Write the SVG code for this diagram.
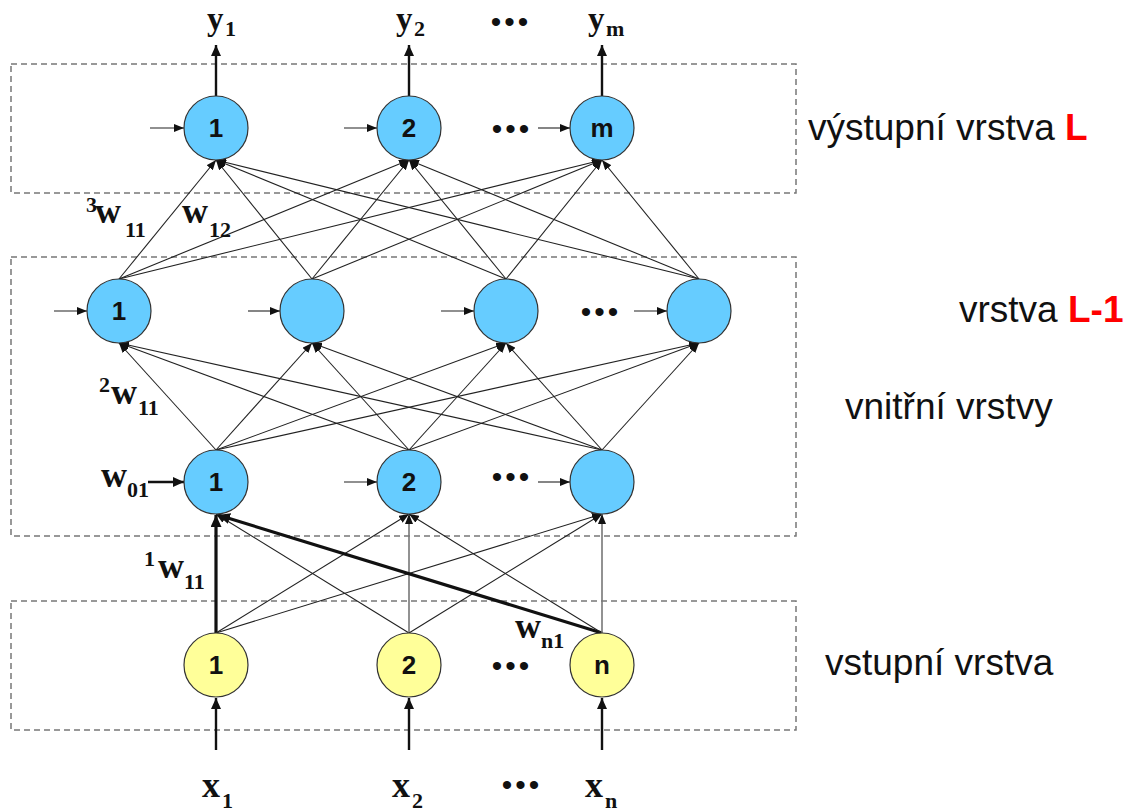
<svg xmlns="http://www.w3.org/2000/svg" width="1130" height="812" viewBox="0 0 1130 812">
<style>
.box{fill:none;stroke:#777;stroke-width:1.5;stroke-dasharray:6 4}
.blue{fill:#66CCFF;stroke:#333;stroke-width:1.2}
.yel{fill:#FFFF99;stroke:#333;stroke-width:1.2}
.nl{font-family:"Liberation Sans",Arial,sans-serif;font-weight:bold;font-size:26px;fill:#111;text-anchor:middle}
.e{stroke:#222;stroke-width:1.1;fill:none;marker-end:url(#ah)}
.thick{stroke:#111;stroke-width:3.2;fill:none;marker-end:url(#ahb)}
.grey{stroke:#777;stroke-width:1.6;fill:none;marker-end:url(#ah)}
.io{stroke:#111;stroke-width:2.4;fill:none;marker-end:url(#ahm)}
.m{font-family:"Liberation Serif","Times New Roman",serif;font-weight:bold;fill:#111}
.big{font-size:36px}
.ybig{font-size:33px}
.sub{font-size:22px}
.dots{font-family:"Liberation Sans",Arial,sans-serif;font-size:30px;fill:#111;text-anchor:middle;letter-spacing:3px}
.lab{font-family:"Liberation Sans",Arial,sans-serif;font-size:37px;fill:#111}
.red{fill:#FF0000;font-weight:bold}
</style>
<defs>
<marker id="ah" markerUnits="userSpaceOnUse" markerWidth="11" markerHeight="8" refX="10" refY="4" orient="auto"><path d="M0,0 L10,4 L0,8 z" fill="#111"/></marker>
<marker id="ahm" markerUnits="userSpaceOnUse" markerWidth="12" markerHeight="10" refX="11" refY="5" orient="auto"><path d="M0,0 L11,5 L0,10 z" fill="#111"/></marker>
<marker id="ahb" markerUnits="userSpaceOnUse" markerWidth="13" markerHeight="11" refX="12" refY="5.5" orient="auto"><path d="M0,0 L12,5.5 L0,11 z" fill="#111"/></marker>
</defs>
<rect width="1130" height="812" fill="#fff"/>
<g id="layers">
<rect class="box" x="11" y="64" width="785" height="129"/>
<rect class="box" x="11" y="257" width="785" height="279"/>
<rect class="box" x="11" y="601" width="785" height="129"/>
</g>
<g id="connectors">
<line class="e" x1="119" y1="279" x2="216" y2="160"/>
<line class="e" x1="119" y1="279" x2="409" y2="160"/>
<line class="e" x1="119" y1="279" x2="602" y2="160"/>
<line class="e" x1="312" y1="279" x2="216" y2="160"/>
<line class="e" x1="312" y1="279" x2="409" y2="160"/>
<line class="e" x1="312" y1="279" x2="602" y2="160"/>
<line class="e" x1="506" y1="279" x2="216" y2="160"/>
<line class="e" x1="506" y1="279" x2="409" y2="160"/>
<line class="e" x1="506" y1="279" x2="602" y2="160"/>
<line class="e" x1="699" y1="279" x2="216" y2="160"/>
<line class="e" x1="699" y1="279" x2="409" y2="160"/>
<line class="e" x1="699" y1="279" x2="602" y2="160"/>
<line class="e" x1="216" y1="450" x2="119" y2="343"/>
<line class="e" x1="216" y1="450" x2="312" y2="343"/>
<line class="e" x1="216" y1="450" x2="506" y2="343"/>
<line class="e" x1="216" y1="450" x2="699" y2="343"/>
<line class="e" x1="409" y1="450" x2="119" y2="343"/>
<line class="e" x1="409" y1="450" x2="312" y2="343"/>
<line class="e" x1="409" y1="450" x2="506" y2="343"/>
<line class="e" x1="409" y1="450" x2="699" y2="343"/>
<line class="e" x1="602" y1="450" x2="119" y2="343"/>
<line class="e" x1="602" y1="450" x2="312" y2="343"/>
<line class="e" x1="602" y1="450" x2="506" y2="343"/>
<line class="e" x1="602" y1="450" x2="699" y2="343"/>
<line class="thick" x1="216" y1="633" x2="216" y2="515"/>
<line class="e" x1="216" y1="633" x2="409" y2="514"/>
<line class="e" x1="216" y1="633" x2="602" y2="514"/>
<line class="e" x1="409" y1="633" x2="216" y2="514"/>
<line class="grey" x1="409" y1="633" x2="409" y2="514"/>
<line class="e" x1="409" y1="633" x2="602" y2="514"/>
<line class="thick" x1="602" y1="633" x2="218" y2="515"/>
<line class="e" x1="602" y1="633" x2="409" y2="514"/>
<line class="grey" x1="602" y1="633" x2="602" y2="514"/>
<line class="io" x1="216" y1="96" x2="216" y2="45"/>
<line class="io" x1="409" y1="96" x2="409" y2="45"/>
<line class="io" x1="602" y1="96" x2="602" y2="45"/>
<line class="io" x1="216" y1="750" x2="216" y2="698"/>
<line class="io" x1="409" y1="750" x2="409" y2="698"/>
<line class="io" x1="602" y1="750" x2="602" y2="698"/>
<line class="e" x1="150" y1="128" x2="184" y2="128"/>
<line class="e" x1="344" y1="128" x2="377" y2="128"/>
<line class="e" x1="538" y1="128" x2="570" y2="128"/>
<line class="e" x1="54" y1="311" x2="87" y2="311"/>
<line class="e" x1="248" y1="311" x2="280" y2="311"/>
<line class="e" x1="441" y1="311" x2="474" y2="311"/>
<line class="e" x1="634" y1="311" x2="667" y2="311"/>
<line class="io" x1="148" y1="482" x2="184" y2="482"/>
<line class="e" x1="344" y1="482" x2="377" y2="482"/>
<line class="e" x1="538" y1="482" x2="570" y2="482"/>
</g>
<g id="out1"><circle class="blue" cx="216" cy="128" r="32"/><text class="nl" x="216" y="137">1</text></g>
<g id="out2"><circle class="blue" cx="409" cy="128" r="32"/><text class="nl" x="409" y="137">2</text></g>
<g id="outm"><circle class="blue" cx="602" cy="128" r="32"/><text class="nl" x="602" y="137">m</text></g>
<g id="hid2_1"><circle class="blue" cx="119" cy="311" r="32"/><text class="nl" x="119" y="320">1</text></g>
<g id="hid2_2"><circle class="blue" cx="312" cy="311" r="32"/></g>
<g id="hid2_3"><circle class="blue" cx="506" cy="311" r="32"/></g>
<g id="hid2_4"><circle class="blue" cx="699" cy="311" r="32"/></g>
<g id="hid1_1"><circle class="blue" cx="216" cy="482" r="32"/><text class="nl" x="216" y="491">1</text></g>
<g id="hid1_2"><circle class="blue" cx="409" cy="482" r="32"/><text class="nl" x="409" y="491">2</text></g>
<g id="hid1_3"><circle class="blue" cx="602" cy="482" r="32"/></g>
<g id="in1"><circle class="yel" cx="216" cy="665" r="32"/><text class="nl" x="216" y="674">1</text></g>
<g id="in2"><circle class="yel" cx="409" cy="665" r="32"/><text class="nl" x="409" y="674">2</text></g>
<g id="inn"><circle class="yel" cx="602" cy="665" r="32"/><text class="nl" x="602" y="674">n</text></g>
<g id="labels">
<text class="m"><tspan class="ybig" x="207" y="30">y</tspan><tspan class="sub" x="225" y="36">1</tspan></text>
<text class="m"><tspan class="ybig" x="396" y="30">y</tspan><tspan class="sub" x="414" y="36">2</tspan></text>
<text class="m"><tspan class="ybig" x="588" y="30">y</tspan><tspan class="sub" x="606" y="36">m</tspan></text>
<text class="m"><tspan class="big" x="202" y="797">x</tspan><tspan class="sub" x="222" y="808">1</tspan></text>
<text class="m"><tspan class="big" x="392" y="797">x</tspan><tspan class="sub" x="412" y="808">2</tspan></text>
<text class="m"><tspan class="big" x="585" y="797">x</tspan><tspan class="sub" x="605" y="808">n</tspan></text>
<text class="m"><tspan class="sub" x="86" y="212">3</tspan><tspan class="big" x="95" y="223">w</tspan><tspan class="sub" x="125" y="237">11</tspan></text>
<text class="m"><tspan class="big" x="182" y="223">w</tspan><tspan class="sub" x="209" y="237">12</tspan></text>
<text class="m"><tspan class="sub" x="99" y="392">2</tspan><tspan class="big" x="111" y="404">w</tspan><tspan class="sub" x="138" y="415">11</tspan></text>
<text class="m"><tspan class="big" x="101" y="487">w</tspan><tspan class="sub" x="127" y="497">01</tspan></text>
<text class="m"><tspan class="sub" x="144" y="566">1</tspan><tspan class="big" x="158" y="578">w</tspan><tspan class="sub" x="184" y="589">11</tspan></text>
<text class="m"><tspan class="big" x="515" y="638">w</tspan><tspan class="sub" x="541" y="648">n1</tspan></text>
<text class="dots" x="511" y="32">•••</text>
<text class="dots" x="512" y="139">•••</text>
<text class="dots" x="601" y="322">•••</text>
<text class="dots" x="512" y="487">•••</text>
<text class="dots" x="512" y="676">•••</text>
<text class="dots" x="522" y="795">•••</text>
<text class="lab" x="808" y="140">výstupní vrstva <tspan class="red">L</tspan></text>
<text class="lab" x="959" y="322">vrstva <tspan class="red">L-1</tspan></text>
<text class="lab" x="845" y="419">vnitřní vrstvy</text>
<text class="lab" x="825" y="675">vstupní vrstva</text>
</g>
</svg>
